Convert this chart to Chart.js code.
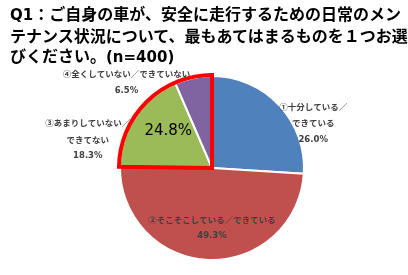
<!DOCTYPE html>
<html>
<head>
<meta charset="utf-8">
<script src="https://cdn.jsdelivr.net/npm/chart.js@4"></script>
<style>
  html, body { margin: 0; padding: 0; background: #fff; }
  #wrap { position: relative; width: 408px; height: 275px; overflow: hidden; }
  #title {
    position: absolute; left: 10px; top: 3px; width: 400px;
    font: bold 16px/20px "Noto Sans CJK JP", sans-serif; color: #000; white-space: nowrap;
  }
  #title .lat { font-family: "DejaVu Sans", sans-serif; font-size: 15px; }
  #chart { position: absolute; left: 0; top: 0; }
</style>
</head>
<body>
<div id="wrap">
  <canvas id="chart" width="408" height="275"></canvas>
  <div id="title"><span class="lat">Q1</span>：ご自身の車が、安全に走行するための日常のメン<br>テナンス状況について、最もあてはまるものを１つお選<br>びください。<span class="lat">(n=400)</span></div>
</div>
<script>
const categories = ["①十分している／できている", "②そこそこしている／できている", "③あまりしていない／できてない", "④全くしていない／できていない"];
const labelLines = [["①十分している／", "できている"], ["②そこそこしている／できている"], ["③あまりしていない／", "できてない"], ["④全くしていない／できていない"]];
const shares     = [26.0, 49.3, 18.3, 6.5];
const colors     = ["#4F81BD", "#C0504D", "#9BBB59", "#8064A2"];
const highlight  = [2, 3];

// label block centres as fractions of the radius, from the pie centre
const LABEL_POS = [[1.10, -0.49], [0.0, 0.65], [-1.35, -0.31], [-0.93, -0.93]];

const sliceLabels = {
  id: "sliceLabels",
  afterDatasetsDraw(chart) {
    const { ctx } = chart;
    const arcs = chart.getDatasetMeta(0).data;

    // red frame round the highlighted slices
    const first = arcs[highlight[0]], last = arcs[highlight[highlight.length - 1]];
    const r = first.outerRadius + 1;
    ctx.save();
    ctx.strokeStyle = "#FF0000"; ctx.lineWidth = 4; ctx.lineJoin = "miter";
    ctx.beginPath();
    ctx.moveTo(first.x, first.y);
    ctx.arc(first.x, first.y, r, first.startAngle, last.endAngle);
    ctx.closePath();
    ctx.stroke();

    // big sum label inside the frame
    const sum = highlight.reduce((s, i) => s + shares[i], 0);
    ctx.fillStyle = "#000"; ctx.font = '15px "DejaVu Sans", sans-serif';
    ctx.textAlign = "center"; ctx.textBaseline = "middle";
    ctx.fillText(sum.toFixed(1) + "%", first.x - 0.47 * r, first.y - 0.40 * r);

    ctx.fillStyle = "#404040";
    arcs.forEach((arc, i) => {
      const lines = [...labelLines[i], shares[i].toFixed(1) + "%"];
      const cx = arc.x + LABEL_POS[i][0] * arc.outerRadius;
      const cy = arc.y + LABEL_POS[i][1] * arc.outerRadius;
      const lh = 16.5, y0 = cy - (lines.length - 1) * lh / 2;
      lines.forEach((t, k) => {
        ctx.font = k === lines.length - 1 ? 'bold 8.5px "DejaVu Sans", sans-serif' : 'bold 8.5px "Noto Sans CJK JP", sans-serif';
        ctx.fillText(t, cx, y0 + k * lh);
      });
    });
    ctx.restore();
  }
};

new Chart(document.getElementById("chart"), {
  type: "pie",
  data: {
    labels: categories,
    datasets: [{ data: shares, backgroundColor: colors, borderColor: "#fff", borderWidth: 2, radius: 92 }],
  },
  options: {
    responsive: false,
    animation: false,
    layout: { padding: { left: 121, right: 105, top: 77, bottom: 16 } },
    plugins: { legend: { display: false }, tooltip: { enabled: false }, title: { display: false } },
  },
  plugins: [sliceLabels],
});
</script>
</body>
</html>
